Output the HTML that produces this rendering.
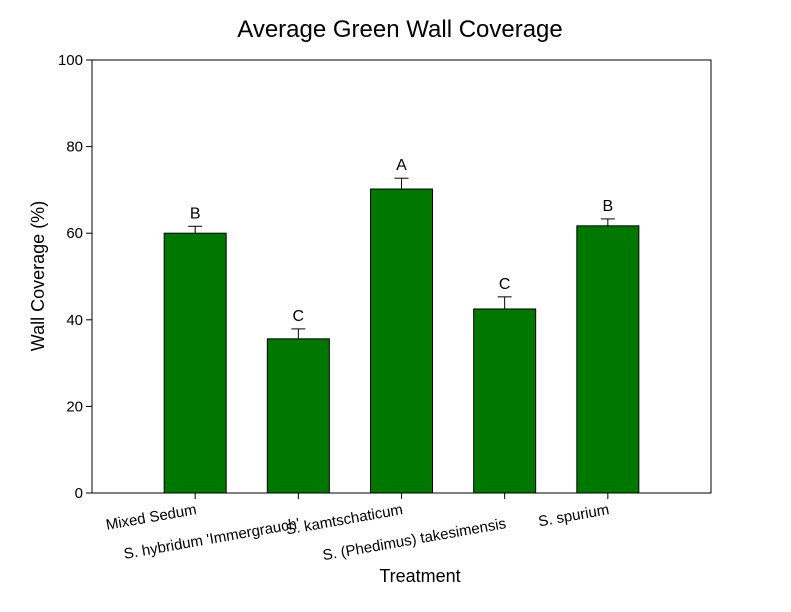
<!DOCTYPE html>
<html><head><meta charset="utf-8"><style>
body{margin:0;background:#fff}
svg{display:block;font-family:"Liberation Sans",Arial,sans-serif}
</style></head><body>
<svg width="791" height="612" viewBox="0 0 791 612">
<text x="400" y="37" font-size="24" text-anchor="middle">Average Green Wall Coverage</text>
<g id="plot"></g>
<text transform="translate(44,276) rotate(-90)" font-size="18" text-anchor="middle">Wall Coverage (%)</text>
<text x="420" y="582" font-size="18" text-anchor="middle">Treatment</text>
</svg>
<script>
const categories = ["Mixed Sedum","S. hybridum 'Immergrauch'","S. kamtschaticum","S. (Phedimus) takesimensis","S. spurium"];
const values = [60.0, 35.6, 70.2, 42.5, 61.7];
const errors = [1.6, 2.3, 2.5, 2.8, 1.6];
const letters = ["B","C","A","C","B"];
const yTicks = [0,20,40,60,80,100];

const NS="http://www.w3.org/2000/svg";
const g=document.getElementById('plot');
const X0=92,X1=711,Y0=493,Y1=60;
const y=v=>Y0-(v/100)*(Y0-Y1);
const step=(X1-X0)/(categories.length+1);
const x=i=>X0+step*(i+1);
const bw=62;
function mk(t,a){const e=document.createElementNS(NS,t);for(const k in a)e.setAttribute(k,a[k]);g.appendChild(e);return e;}
yTicks.forEach(t=>{
  const l=mk('line',{x1:X0-6,x2:X0,y1:y(t),y2:y(t),stroke:'#000'});
  
  
  const tx=mk('text',{x:X0-9,y:y(t)+5,'font-size':15,'text-anchor':'end'});
  tx.textContent=t;
  
  
});
categories.forEach((c,i)=>{
  const cx=x(i);
  const eb=mk('line',{x1:cx,x2:cx,y1:y(values[i]),y2:y(values[i]+errors[i]),stroke:'#000'});
  
  
  const cap=mk('line',{x1:cx-7,x2:cx+7,y1:y(values[i]+errors[i]),y2:y(values[i]+errors[i]),stroke:'#000'});
  
  
  const r=mk('rect',{x:cx-bw/2,y:y(values[i]),width:bw,height:Y0-y(values[i]),fill:'#007800',stroke:'#000','stroke-width':1});
  
  
  const lt=mk('text',{x:cx,y:y(values[i]+errors[i])-8,'font-size':16,'text-anchor':'middle'});
  lt.textContent=letters[i];
  
  
  const tk=mk('line',{x1:cx,x2:cx,y1:Y0,y2:Y0+6,stroke:'#000'});
  
  
  const ly=(i%2===0)?514:528;
  const cl=mk('text',{transform:`translate(${cx+2},${ly}) rotate(-10)`,'font-size':15,'text-anchor':'end'});
  cl.textContent=c;
  
  
});
const fr=mk('rect',{x:X0,y:Y1,width:X1-X0,height:Y0-Y1,fill:'none',stroke:'#000'});


</script>
</body></html>
